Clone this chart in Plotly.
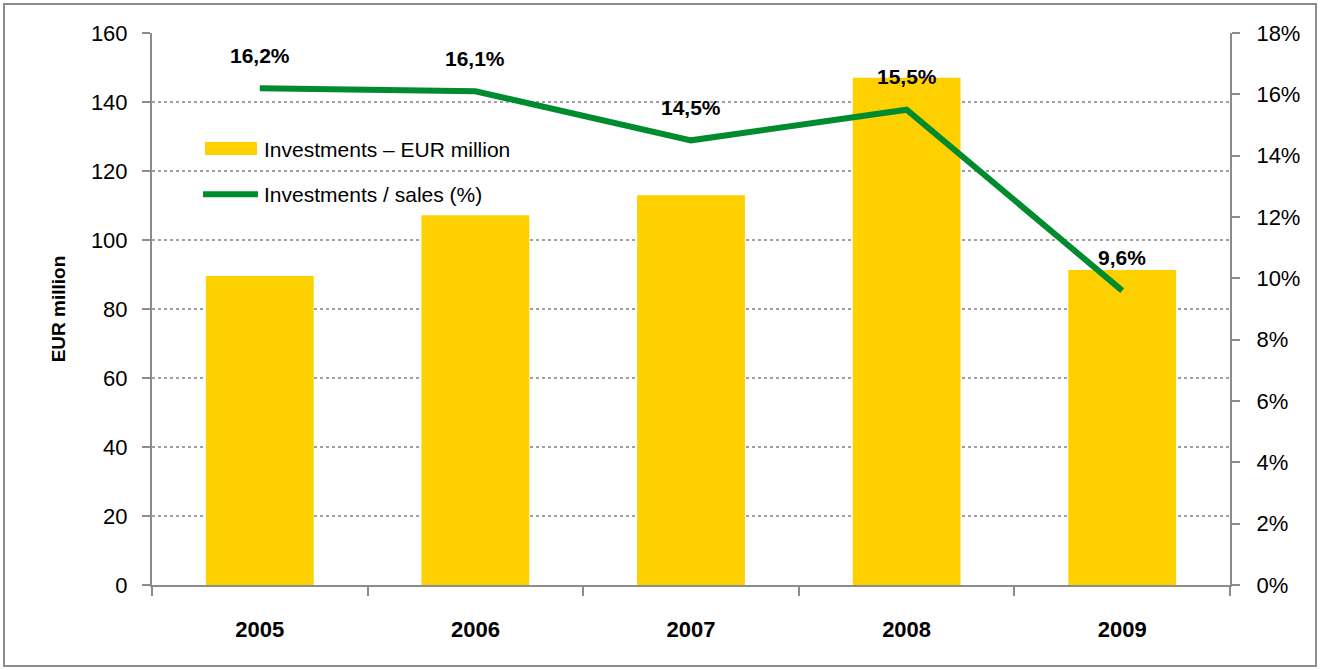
import plotly.graph_objects as go

# Data
years = ['2005', '2006', '2007', '2008', '2009']
investments = [89.6, 107.2, 113.0, 147.0, 91.3]       # EUR million
invest_sales = [16.2, 16.1, 14.5, 15.5, 9.6]           # %
pct_labels = ['16,2%', '16,1%', '14,5%', '15,5%', '9,6%']

COLOR_BAR = '#FFD000'
COLOR_LINE = '#008C2E'
COLOR_AXIS = '#8C8C8C'
FONT = 'Liberation Sans Narrow, Arial Narrow, Liberation Sans, Arial, sans-serif'

fig = go.Figure()

fig.add_trace(go.Bar(
    x=years, y=investments, name='Investments – EUR million',
    marker=dict(color=COLOR_BAR, line=dict(width=0)),
    width=0.5, yaxis='y', showlegend=False
))

fig.add_trace(go.Scatter(
    x=years, y=invest_sales, name='Investments / sales (%)',
    mode='lines', line=dict(color=COLOR_LINE, width=6),
    yaxis='y2', showlegend=False
))

# data labels above the line points (category index used for x)
for i, (v, lab) in enumerate(zip(invest_sales, pct_labels)):
    fig.add_annotation(x=i, xref='x', y=v, yref='y2', text='<b>' + lab + '</b>',
                       showarrow=False, yshift=33,
                       font=dict(size=21, color='black', family=FONT))

# custom legend (Excel-style long symbols)
fig.add_shape(type='rect', xref='paper', yref='paper',
              x0=0.0492, x1=0.0974, y0=0.779, y1=0.8025,
              fillcolor=COLOR_BAR, line=dict(width=0))
fig.add_annotation(xref='paper', yref='paper', x=0.102, y=0.789, xanchor='left',
                   yanchor='middle', text='Investments – EUR million', showarrow=False,
                   font=dict(size=21, color='black', family=FONT))
fig.add_shape(type='line', xref='paper', yref='paper',
              x0=0.0473, x1=0.0983, y0=0.708, y1=0.708,
              line=dict(color=COLOR_LINE, width=6))
fig.add_annotation(xref='paper', yref='paper', x=0.102, y=0.707, xanchor='left',
                   yanchor='middle', text='Investments / sales (%)', showarrow=False,
                   font=dict(size=21, color='black', family=FONT))

# outer chart border
fig.add_shape(type='rect', xref='paper', yref='paper',
              x0=-0.1373, x1=1.0798, y0=-0.1467, y1=1.0525,
              line=dict(color='#8C8C8C', width=2), fillcolor='rgba(0,0,0,0)')

fig.update_layout(
    width=1320, height=670,
    margin=dict(l=152, r=90, t=33, b=85),
    paper_bgcolor='white', plot_bgcolor='white',
    font=dict(family=FONT, size=22, color='black'),
    xaxis=dict(
        type='category', range=[-0.5, 4.5], showline=True, linecolor=COLOR_AXIS,
        linewidth=2, ticks='outside', tickson='boundaries', ticklen=9,
        tickcolor=COLOR_AXIS, tickwidth=2, tickangle=0,
        tickfont=dict(size=22, family=FONT),
        tickprefix='<b>', ticksuffix='</b>', ticklabelstandoff=24,
        showgrid=False, automargin=False
    ),
    yaxis=dict(
        range=[0, 160], dtick=20, showline=True, linecolor=COLOR_AXIS, linewidth=2,
        ticks='outside', ticklen=8, tickcolor=COLOR_AXIS, tickwidth=2,
        showgrid=True, gridcolor='#A0A0A0', griddash='dot', gridwidth=1.5,
        zeroline=False, ticklabelstandoff=10, automargin=False,
        tickfont=dict(size=22, family=FONT),
        title=dict(text='<b>EUR million</b>', font=dict(size=19, family=FONT), standoff=20)
    ),
    yaxis2=dict(
        range=[0, 18], dtick=2, overlaying='y', side='right', ticksuffix='%',
        showline=True, linecolor=COLOR_AXIS, linewidth=2,
        ticks='outside', ticklen=8, tickcolor=COLOR_AXIS, tickwidth=2,
        showgrid=False, zeroline=False, ticklabelstandoff=12, automargin=False,
        tickfont=dict(size=22, family=FONT)
    ),
)

# drop the browser's default page margin so the figure sits at the top-left corner
fig.write_html('out.html', config={'displayModeBar': False},
               post_script="document.body.style.margin='0';")
